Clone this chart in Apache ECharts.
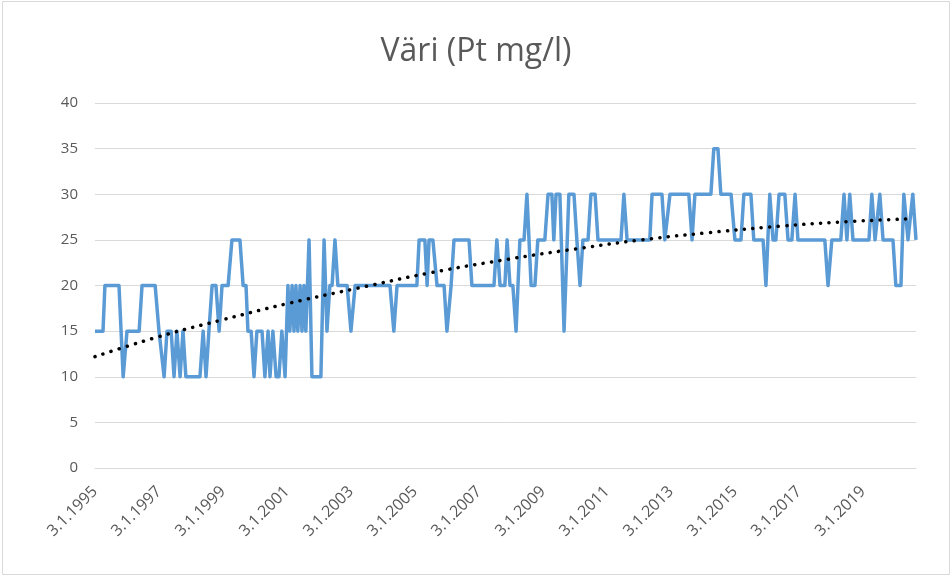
<!DOCTYPE html>
<html>
<head>
<meta charset="utf-8">
<style>
  html, body { margin: 0; padding: 0; background: #fff; }
  #chart { width: 952px; height: 579px; }
</style>
<script src="https://cdn.jsdelivr.net/npm/echarts@6/dist/echarts.min.js"></script>
</head>
<body>
<div id="chart"></div>
<script>
  // sample dates as decimal years
  const sampleYears = [
    1995.00, 1995.25, 1995.31, 1995.75, 1995.88, 1996.00, 1996.38, 1996.47, 1996.88, 1997.00,
    1997.16, 1997.25, 1997.38, 1997.47, 1997.56, 1997.66, 1997.75, 1997.84, 1998.28, 1998.38,
    1998.47, 1998.56, 1998.66, 1998.78, 1998.88, 1998.97, 1999.16, 1999.28, 1999.53, 1999.63,
    1999.72, 1999.78, 1999.88, 1999.97, 2000.06, 2000.22, 2000.31, 2000.41, 2000.47, 2000.56,
    2000.66, 2000.75, 2000.84, 2000.94, 2001.03, 2001.09, 2001.16, 2001.22, 2001.28, 2001.34,
    2001.41, 2001.47, 2001.53, 2001.59, 2001.69, 2001.78, 2002.06, 2002.16, 2002.25, 2002.34,
    2002.41, 2002.50, 2002.59, 2002.88, 2003.00, 2003.13, 2004.22, 2004.34, 2004.44, 2005.06,
    2005.13, 2005.31, 2005.38, 2005.44, 2005.56, 2005.69, 2005.91, 2006.00, 2006.13, 2006.22,
    2006.69, 2006.78, 2007.47, 2007.56, 2007.66, 2007.81, 2007.88, 2007.97, 2008.06, 2008.16,
    2008.28, 2008.41, 2008.50, 2008.63, 2008.75, 2008.84, 2009.06, 2009.16, 2009.28, 2009.34,
    2009.41, 2009.53, 2009.66, 2009.81, 2009.97, 2010.06, 2010.16, 2010.25, 2010.41, 2010.50,
    2010.63, 2010.72, 2011.44, 2011.53, 2011.63, 2012.34, 2012.41, 2012.72, 2012.81, 2012.97,
    2013.56, 2013.66, 2013.75, 2014.25, 2014.34, 2014.47, 2014.56, 2014.88, 2015.00, 2015.19,
    2015.28, 2015.50, 2015.59, 2015.88, 2015.97, 2016.09, 2016.19, 2016.28, 2016.38, 2016.56,
    2016.66, 2016.78, 2016.88, 2016.97, 2017.81, 2017.91, 2018.03, 2018.31, 2018.41, 2018.50,
    2018.59, 2018.69, 2019.19, 2019.28, 2019.38, 2019.44, 2019.53, 2019.63, 2019.94, 2020.03,
    2020.19, 2020.28, 2020.41, 2020.47, 2020.56, 2020.66
  ];
  const colourValues = [
    15, 15, 20, 20, 10, 15, 15, 20, 20, 15,
    10, 15, 15, 10, 15, 10, 15, 10, 10, 15,
    10, 15, 20, 20, 15, 20, 20, 25, 25, 20,
    20, 15, 15, 10, 15, 15, 10, 15, 10, 15,
    10, 10, 15, 10, 20, 15, 20, 15, 20, 15,
    20, 15, 20, 15, 25, 10, 10, 25, 15, 20,
    20, 25, 20, 20, 15, 20, 20, 15, 20, 20,
    25, 25, 20, 25, 25, 20, 20, 15, 20, 25,
    25, 20, 20, 25, 20, 20, 25, 20, 20, 15,
    25, 25, 30, 20, 20, 25, 25, 30, 30, 25,
    30, 30, 15, 30, 30, 25, 20, 25, 25, 30,
    30, 25, 25, 30, 25, 25, 30, 30, 25, 30,
    30, 25, 30, 30, 35, 35, 30, 30, 25, 25,
    30, 30, 25, 25, 20, 30, 25, 25, 30, 30,
    25, 25, 30, 25, 25, 20, 25, 25, 30, 25,
    30, 25, 25, 30, 25, 25, 30, 25, 25, 20,
    20, 30, 25, 25, 30, 25
  ];

  // dotted trend line
  const trendYears = [1995.0, 1997.0, 1998.94, 2001.0, 2003.47, 2005.5, 2007.78, 2010.0, 2012.09, 2014.2, 2016.41, 2018.5, 2020.5];
  const trendValues = [12.2, 14.4, 16.2, 18.0, 19.9, 21.4, 22.8, 24.0, 25.0, 25.8, 26.5, 27.0, 27.3];

  const yTicks = { min: 0, max: 40, interval: 5 };
  const xRange = { min: 1995, max: 2020.66, interval: 2 };
  const labelPrefix = '3.1.';

  const lineData = sampleYears.map((y, i) => [y, colourValues[i]]);
  const trendData = trendYears.map((y, i) => [y, trendValues[i]]);

  const chart = echarts.init(document.getElementById('chart'), null, { renderer: 'canvas' });
  chart.setOption({
    animation: false,
    backgroundColor: '#ffffff',
    title: {
      text: 'Väri (Pt mg/l)',
      left: 'center',
      top: 31,
      textStyle: { fontFamily: 'Open Sans', fontSize: 32, fontWeight: 'normal', color: '#595959' }
    },
    graphic: [{
      type: 'rect',
      shape: { x: 2.5, y: 1.5, width: 947, height: 573 },
      style: { fill: 'none', stroke: '#d9d9d9', lineWidth: 1 },
      silent: true
    }],
    grid: { left: 95, right: 36, top: 103, bottom: 111 },
    xAxis: {
      type: 'value',
      min: xRange.min,
      max: xRange.max,
      interval: xRange.interval,
      splitLine: { show: false },
      axisTick: { show: false },
      axisLine: { show: true, lineStyle: { color: '#d9d9d9', width: 1 } },
      axisLabel: {
        rotate: 45,
        margin: 21,
        color: '#595959',
        fontFamily: 'Open Sans',
        fontSize: 16,
        showMaxLabel: false,
        formatter: (v) => (Number.isInteger(v) ? labelPrefix + v : '')
      }
    },
    yAxis: {
      type: 'value',
      min: yTicks.min,
      max: yTicks.max,
      interval: yTicks.interval,
      axisLine: { show: false },
      axisTick: { show: false },
      splitLine: { lineStyle: { color: '#d9d9d9', width: 1 } },
      axisLabel: { margin: 17, color: '#595959', fontFamily: 'Open Sans', fontSize: 15 }
    },
    series: [
      {
        type: 'line',
        data: lineData,
        showSymbol: false,
        lineStyle: { color: '#5b9bd5', width: 3.5, join: 'round' },
        z: 2
      },
      {
        type: 'line',
        data: trendData,
        smooth: true,
        showSymbol: false,
        lineStyle: { color: '#000000', width: 3.5, type: [0.1, 8.4], cap: 'round' },
        z: 3
      }
    ]
  });
</script>
</body>
</html>
